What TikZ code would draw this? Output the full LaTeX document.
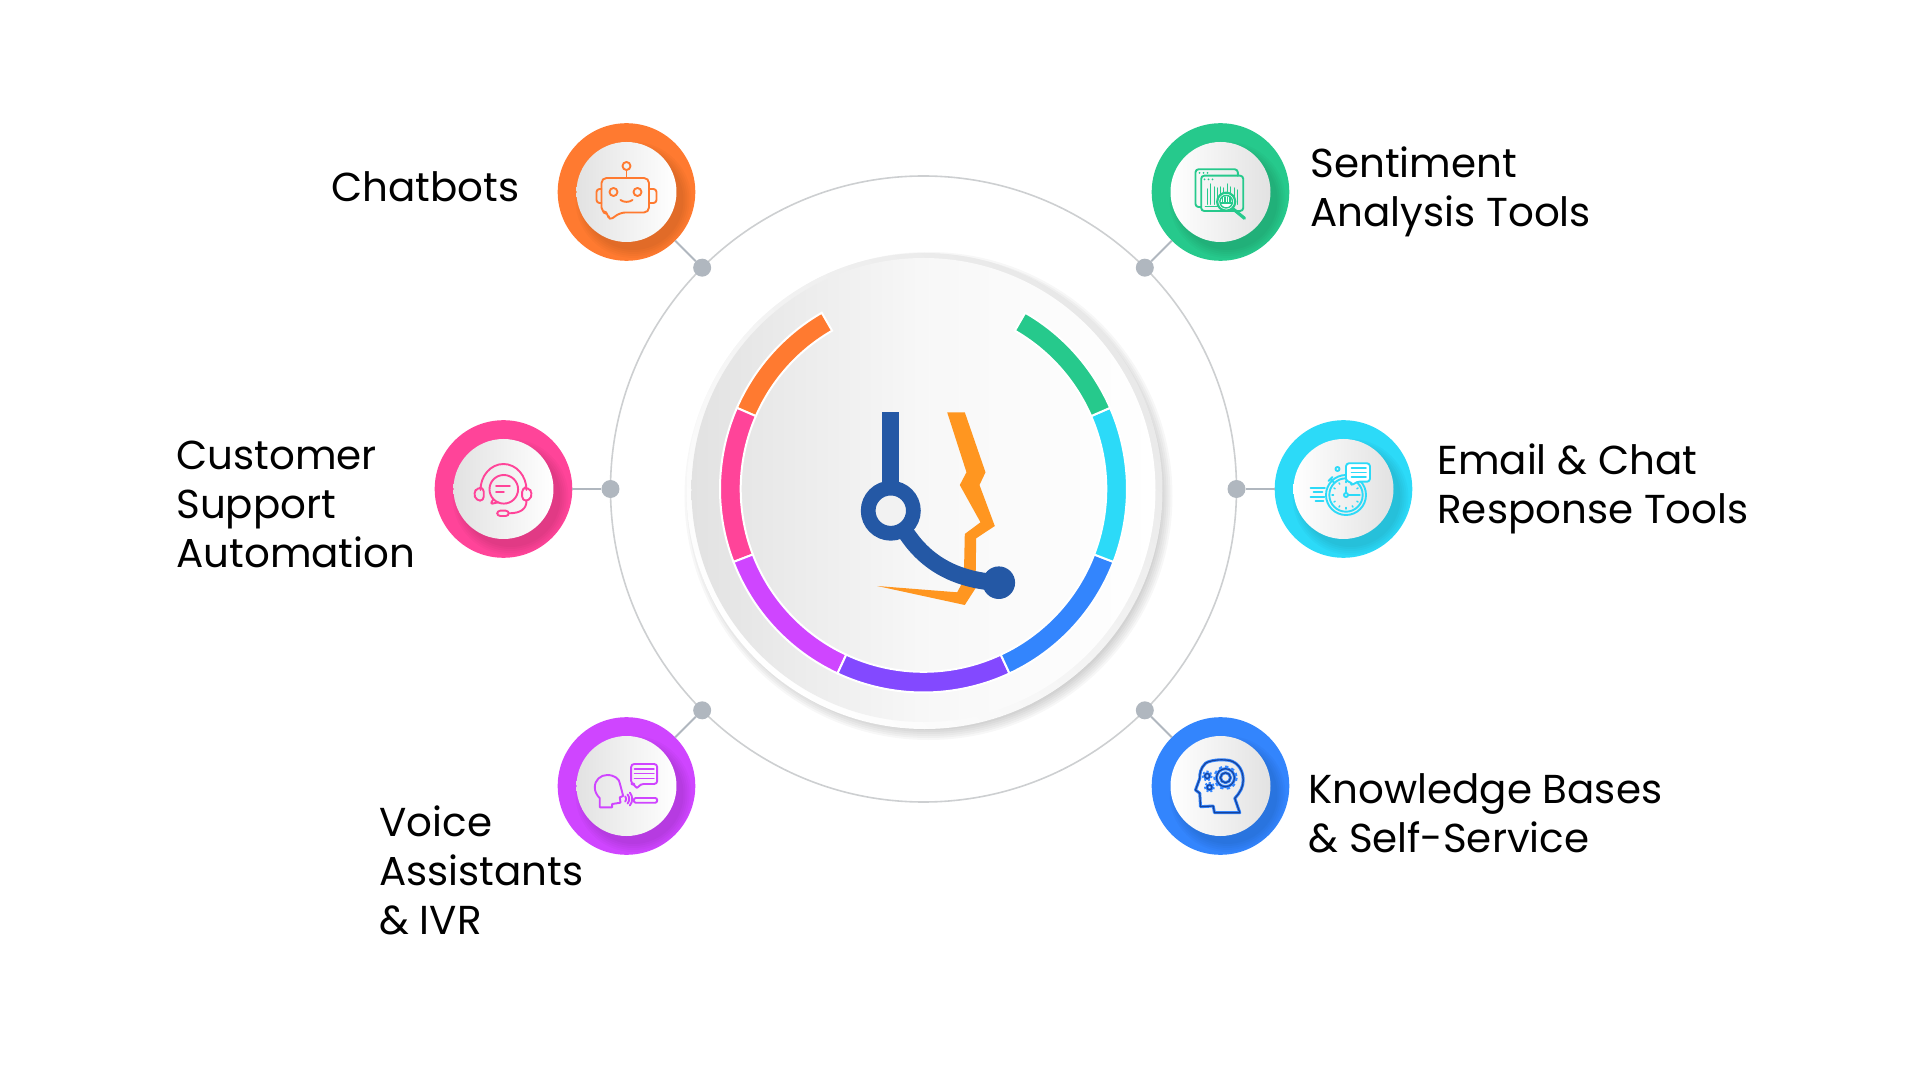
\documentclass[tikz,border=0pt]{standalone}
\usepackage{fontspec}
\setmainfont{Poppins}
\definecolor{chatc}{HTML}{FF7A30}
\definecolor{sentic}{HTML}{26C98C}
\definecolor{custc}{HTML}{FF4499}
\definecolor{mailc}{HTML}{2CDAF8}
\definecolor{voicec}{HTML}{CF45FF}
\definecolor{knowc}{HTML}{3385FD}
\definecolor{violetc}{HTML}{8349FF}
\definecolor{navyc}{HTML}{17429A}
\definecolor{logoblue}{HTML}{2458A5}
\definecolor{logoorange}{HTML}{FF9620}
\definecolor{dotc}{HTML}{B0B7BF}
\definecolor{linec}{HTML}{CDCFD1}
\definecolor{softgrey}{HTML}{E2E2E2}
\tikzset{
    badge/.style={circle, inner sep=0, outer sep=0, minimum size=68.8pt},
    facedisc/.style={circle, inner sep=0, outer sep=0, minimum size=50pt},
    dotnode/.style={circle, fill=dotc, inner sep=0, outer sep=0, minimum size=9pt},
    conn/.style={draw=dotc, line width=1pt},
    txt/.style={font=\fontsize{20.2}{24.5}\selectfont, align=left, inner sep=0, anchor=west, text=black},
    icon/.style={line width=.95pt, line join=round, line cap=round, fill=none},
}
\begin{document}
\begin{tikzpicture}[x=.5pt, y=.5pt]
    \useasboundingbox (-923.5,-592) rectangle (998.5,489);

    \draw[linec, line width=.8pt] (0,0) circle (313);

    % six badges
    \foreach \name/\px/\py/\col/\lc/\rc in {chat/-297/297/chatc/softgrey/white,
            senti/297/297/sentic/white/softgrey, cust/-420/0/custc/softgrey/white,
            mail/420/0/mailc/white/softgrey, voice/-297/-297/voicec/softgrey/white,
            know/297/-297/knowc/white/softgrey} {
        \node[badge, fill=\col] (\name) at (\px,\py) {};
        \begin{scope}
            \clip (\px,\py) circle (68.8);
            \foreach \r in {50,52,...,58} {
                \fill[black, opacity=.024] (\px+7,\py-8) circle (\r);
            }
        \end{scope}
        \node[facedisc, left color=\lc, right color=\rc] (\name face) at (\px,\py) {};
    }

    % dots on the big circle
    \foreach \name/\ang in {chat/135, senti/45, cust/180, mail/0, voice/225, know/315} {
        \node[dotnode] (d\name) at (\ang:313) {};
        \draw[conn] (\name) -- (d\name);
    }

    % shadow of the hub
    \foreach \r in {232,234,...,244} {
        \fill[black, opacity=.03] (5,-7) circle (\r);
    }
    \node[circle, inner sep=0, outer sep=0, minimum size=238pt, top color=black!9, bottom color=white, shading angle=-45] (hubrim) at (1,-2) {};
    \node[circle, inner sep=0, outer sep=0, minimum size=232pt, left color=softgrey, right color=white, middle color=black!3] (hub) at (0,-1) {};

    % coloured arcs
    \foreach \a/\b/\col in {120/156.5/chatc, 156.5/201/custc, 201/245/voicec, 245/295/violetc,
            295/339/knowc, 339/383.5/mailc, 383.5/420/sentic} {
        \fill[\col, draw=white, line width=1pt] (\a:203.5) arc (\a:\b:203.5) -- (\b:182.8) arc (\b:\a:182.8) -- cycle;
    }

    % logo
    \fill[logoorange] (23.7,76.7) -- (41.3,76.7) -- (62,16.7) -- (56,4) -- (71.3,-37) -- (52.7,-49.3)
        -- (52,-99.3) -- (41.3,-116) -- (-46.3,-97) -- (33.7,-103.3) -- (40.3,-91) -- (41.3,-45)
        -- (57,-33.3) -- (36.3,4) -- (43,16.7) -- cycle;
    \coordinate (sticktop) at (-32.7,76.7);
    \node[circle, draw=logoblue, fill=black!5, line width=7.35pt, inner sep=0, outer sep=0, minimum size=22.6pt] (earring) at (-32.7,-21.7) {};
    \node[circle, fill=logoblue, inner sep=0, outer sep=0, minimum size=16.3pt] (ball) at (75.3,-93.7) {};
    \draw[logoblue, line width=8.3pt] (sticktop) -- (earring.north);
    \draw[logoblue, line width=8.4pt] (earring.-55) .. controls (0.3,-72.7) and (30.3,-91) .. (ball.center);

    % chatbot icon
    \begin{scope}[shift={(chat.center)}, yscale=-1, draw=chatc, icon]
        \draw (0,-26) circle (4);
        \draw (0,-22) -- (0,-14);
        \draw[rounded corners=2.5pt] (-6,20.5) -- (-18,29) -- (-18,20.5) -- (-25,20.5) -- (-25,-14) -- (22.5,-14) -- (22.5,20.5) -- cycle;
        \draw[rounded corners=1.5pt] (-25,-3) -- (-30,-3) -- (-30,11) -- (-25,11);
        \draw[rounded corners=1.5pt] (22.5,-3) -- (30,-3) -- (30,11) -- (22.5,11);
        \draw (-13,0) circle (4);
        \draw (11,0) circle (4);
        \draw (-6,8) .. controls (-3,10.5) and (3,10.5) .. (6,8);
    \end{scope}

    % sentiment icon
    \begin{scope}[shift={(senti.center)}, yscale=-1, draw=sentic, icon]
        \draw[rounded corners=1.5pt] (-19.3,15) -- (-25,15) -- (-25,-22.7) -- (17.3,-22.7) -- (17.3,-16.3);
        \draw[rounded corners=1.5pt] (-19.3,-16.3) rectangle (22.7,19);
        \foreach \x in {-21,-17,-13} { \fill[sentic] (\x,-19) circle (1); }
        \foreach \x in {-16,-12,-8} { \fill[sentic] (\x,-12.5) circle (1); }
        \foreach \x/\h in {-13/-3, -10/-8, -6/-5, -3/-4, 0/-5, 3/-4, 7/-8, 10/-5, 14/-4, 17/-2} {
            \draw[line width=.7pt] (\x,12.3) -- (\x,\h);
        }
        \draw (-15,14.5) -- (-3,14.5);
        \fill[white] (5.7,9.7) circle (9);
        \draw[line width=1.1pt] (5.7,9.7) circle (9);
        \draw[line width=.7pt] (5.7,9.7) circle (6.3);
        \foreach \x in {2,4.5,7,9.5} { \draw[line width=.7pt] (\x,5) -- (\x,10); }
        \draw (0,11) -- (11.5,11);
        \draw[line width=1.6pt] (12.7,17) -- (24,26.3);
    \end{scope}

    % headset icon
    \begin{scope}[shift={(cust.center)}, yscale=-1, draw=custc, icon]
        \draw (-23,1) arc (180:360:23 and 26);
        \draw[rounded corners=2pt] (-19.7,-1.3) -- (-26,-1.3) -- (-30,4) -- (-27,11.7) -- (-19.7,11.7) -- cycle;
        \draw[rounded corners=2pt] (18.7,-1.3) -- (25,-1.3) -- (29,4) -- (26,11.7) -- (18.7,11.7) -- cycle;
        \draw (0.3,0.3) circle (14.3);
        \draw[rounded corners=1pt] (-10,10) -- (-13,15) -- (-5,13.3);
        \draw (-7.3,-3) -- (6.3,-3);
        \draw (-7.3,2.7) -- (0.3,2.7);
        \draw (23,12) .. controls (23,20) and (17,24.3) .. (5.3,24.3);
        \draw[rounded corners=1.5pt] (-6.3,21.7) rectangle (5.3,27);
    \end{scope}

    % stopwatch icon
    \begin{scope}[shift={(mail.center)}, yscale=-1, draw=mailc, icon]
        \draw (2.5,6) circle (20);
        \draw (2.5,6) circle (16.7);
        \draw (2.5,6) circle (2);
        \draw (2.5,4) -- (2.5,-2);
        \draw (4.5,6) -- (15,6);
        \foreach \ang in {30,60,...,360} { \draw[line width=.7pt] (\ang:1) ++(2.5,6) ++(\ang:11.5) -- ++(\ang:1.5); }
        \draw (-13,-10) -- (-9,-6);
        \draw (-15,-8) -- (-11,-12);
        \draw (-6,-20) circle (2);
        \fill[white] (8,-4) -- (2.5,-12) -- (2.5,-25.7) -- (26.5,-25.7) -- (26.5,-7.3) -- (13,-7.3) -- cycle;
        \draw[rounded corners=1.5pt] (8,-7.3) -- (8,-3) -- (13,-7.3) -- (26.5,-7.3) -- (26.5,-25.7) -- (2.5,-25.7) -- (2.5,-7.3) -- cycle;
        \foreach \y in {-21,-16.5,-12} { \draw (8,\y) -- (22.5,\y); }
        \draw (-33,-1) -- (-18.5,-1);
        \draw (-30,3) -- (-21,3);
        \draw (-33,8) -- (-19,8);
        \draw (-28,12) -- (-20,12);
    \end{scope}

    % talking head icon
    \begin{scope}[shift={(voice.center)}, yscale=-1, draw=voicec, icon]
        \draw (-26.7,21.3) -- (-26.7,12.3) .. controls (-30,9) and (-31.7,5) .. (-31.7,1.3)
            .. controls (-31.7,-6) and (-26,-11) .. (-19.3,-11) .. controls (-12,-11) and (-7,-7) .. (-6.7,-2.7)
            -- (-3.3,10) -- (-6.7,11.3) -- (-6,16.7) -- (-14.3,18) -- (-14.3,21.3) -- cycle;
        \foreach \r in {4,7,10} { \draw (-4.3,13) ++(-40:\r) arc (-40:40:\r); }
        \draw[rounded corners=1.5pt] (8,-2) -- (10,3.3) -- (14,-2) -- (30.7,-2) -- (30.7,-22) -- (4.7,-22) -- (4.7,-2) -- cycle;
        \foreach \y in {-17,-12.5,-7.5} { \draw (8,\y) -- (27.3,\y); }
        \draw[rounded corners=1pt] (7.3,12) rectangle (30.7,16.7);
    \end{scope}

    % brain icon
    \begin{scope}[shift={(know.center)}, yscale=-1, icon]
        \foreach \col/\lw in {knowc/1.5pt, navyc/.6pt} {
            \draw[\col, line width=\lw] (19.3,26.7) -- (14.3,12.3) .. controls (20,6) and (22.7,1) .. (22.7,-6)
                .. controls (22.7,-18) and (15,-26) .. (5,-26) .. controls (-5,-27) and (-14,-24) .. (-15,-22.7)
                .. controls (-20,-18) and (-21,-12) .. (-20.7,-7.7) -- (-25,4) -- (-20.7,7.3)
                -- (-20,20.7) -- (-7.3,20) -- (-6,26.7) -- cycle;
            \draw[\col, line width=\lw] (5,-8.3) circle (5);
            \draw[\col, line width=\lw] (5,-8.3) circle (9);
            \draw[\col, line width=\lw] (-13.3,-10) circle (2.5);
            \draw[\col, line width=\lw] (-11,1.3) circle (2.5);
        }
        \draw[knowc, line width=1.2pt, line cap=butt, dash pattern=on 1.6pt off 1.6pt] (5,-8.3) circle (11);
        \draw[knowc, line width=1pt, line cap=butt, dash pattern=on 1pt off 1pt] (-13.3,-10) circle (4.5);
        \draw[knowc, line width=1pt, line cap=butt, dash pattern=on 1pt off 1pt] (-11,1.3) circle (4.5);
    \end{scope}

    % labels
    \node[txt] (chattxt) at (-592.5,302) {Chatbots};
    \node[txt] (sentitxt) at (386.5,297.5) {Sentiment\\Analysis Tools};
    \node[txt] (custtxt) at (-747.5,-15) {Customer\\Support\\Automation};
    \node[txt] (mailtxt) at (513.5,0) {Email \& Chat\\Response Tools};
    \node[txt] (voicetxt) at (-544.5,-381) {Voice\\Assistants\\\& IVR};
    \node[txt] (knowtxt) at (384.5,-324) {Knowledge Bases\\\& Self-Service};
\end{tikzpicture}
\end{document}
